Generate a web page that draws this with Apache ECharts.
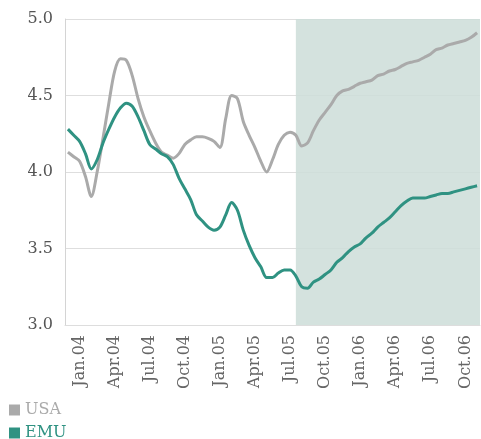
<!DOCTYPE html>
<html>
<head>
<meta charset="utf-8">
<script src="https://cdn.jsdelivr.net/npm/echarts@6/dist/echarts.min.js"></script>
<style>
  html, body { margin: 0; padding: 0; background: #fff; }
  #chart { width: 481px; height: 439px; }
</style>
</head>
<body>
<div id="chart"></div>
<script>
// half-monthly points, Dec 2003 to Nov 2006
const startYear = 2003;
const startMonth = 11; // December (0-based)
const pointCount = 71;

const tickLabels = ['Jan.04', 'Apr.04', 'Jul.04', 'Oct.04', 'Jan.05', 'Apr.05',
  'Jul.05', 'Oct.05', 'Jan.06', 'Apr.06', 'Jul.06', 'Oct.06'];
const monthNames = ['Jan', 'Feb', 'Mar', 'Apr', 'May', 'Jun', 'Jul', 'Aug', 'Sep', 'Oct', 'Nov', 'Dec'];

const usaValues = [
  4.13, 4.10, 4.07, 3.97, 3.84, 4.00, 4.22, 4.45, 4.66, 4.74,
  4.73, 4.63, 4.48, 4.36, 4.27, 4.19, 4.13, 4.11, 4.09, 4.12,
  4.18, 4.21, 4.23, 4.23, 4.22, 4.20, 4.16, 4.35, 4.50, 4.48,
  4.33, 4.24, 4.16, 4.07, 4.00, 4.08, 4.18, 4.24, 4.26, 4.24,
  4.17, 4.19, 4.27, 4.34, 4.39, 4.44, 4.50, 4.53, 4.54, 4.56,
  4.58, 4.59, 4.60, 4.63, 4.64, 4.66, 4.67, 4.69, 4.71, 4.72,
  4.73, 4.75, 4.77, 4.80, 4.81, 4.83, 4.84, 4.85, 4.86, 4.88,
  4.91
];

const emuValues = [
  4.28, 4.24, 4.20, 4.12, 4.02, 4.08, 4.19, 4.28, 4.36, 4.42,
  4.45, 4.43, 4.36, 4.27, 4.18, 4.15, 4.12, 4.10, 4.05, 3.96,
  3.89, 3.82, 3.72, 3.68, 3.64, 3.62, 3.64, 3.72, 3.80, 3.75,
  3.62, 3.52, 3.44, 3.38, 3.31, 3.31, 3.34, 3.36, 3.36, 3.32,
  3.25, 3.24, 3.28, 3.30, 3.33, 3.36, 3.41, 3.44, 3.48, 3.51,
  3.53, 3.57, 3.60, 3.64, 3.67, 3.70, 3.74, 3.78, 3.81, 3.83,
  3.83, 3.83, 3.84, 3.85, 3.86, 3.86, 3.87, 3.88, 3.89, 3.90,
  3.91
];

// forecast shading starts at this point index (mid July 2005)
const forecastStart = 39;

const usaColor = '#aaaaaa';
const emuColor = '#2f9282';
const serif = '"DejaVu Serif", serif';

// category names: "Jan.04" for the first half of a month, "Jan.04b" for the second half
const categories = [];
for (let i = 0; i < pointCount; i++) {
  const m = startMonth + Math.floor(i / 2);
  const year = startYear + Math.floor(m / 12);
  const name = monthNames[m % 12] + '.' + String(year % 100).padStart(2, '0');
  categories.push(i % 2 === 0 ? name : name + 'b');
}

// one legend box per series, stacked at bottom left
function legendBox(name, color, top) {
  return {
    left: 9,
    top: top,
    padding: 0,
    itemWidth: 11,
    itemHeight: 11,
    icon: 'rect',
    textStyle: { fontFamily: serif, fontSize: 16, color: color },
    data: [name]
  };
}

const chart = echarts.init(document.getElementById('chart'));

chart.setOption({
  animation: false,
  backgroundColor: '#fff',
  grid: { left: 65, right: 1, top: 19, bottom: 114 },
  legend: [
    legendBox('USA', usaColor, 402),
    legendBox('EMU', emuColor, 425)
  ],
  xAxis: {
    type: 'category',
    data: categories,
    boundaryGap: true,
    axisLine: { lineStyle: { color: '#dddddd', width: 1 } },
    axisTick: { show: false },
    axisLabel: {
      rotate: 90,
      margin: 10,
      color: '#666',
      fontFamily: serif,
      fontSize: 16,
      interval: (idx, value) => tickLabels.includes(value)
    },
    splitLine: { show: false }
  },
  yAxis: {
    type: 'value',
    min: 3,
    max: 5,
    interval: 0.5,
    axisLine: { show: true, lineStyle: { color: '#d4d4d4' } },
    axisTick: { show: false },
    axisLabel: {
      margin: 12,
      color: '#555',
      fontFamily: serif,
      fontSize: 16,
      formatter: v => v.toFixed(1)
    },
    splitLine: { lineStyle: { color: '#dedede', width: 1 } }
  },
  series: [
    {
      name: 'USA',
      type: 'line',
      data: usaValues,
      smooth: 0.3,
      symbol: 'none',
      lineStyle: { color: usaColor, width: 3 },
      itemStyle: { color: usaColor },
      markArea: {
        silent: true,
        itemStyle: { color: 'rgba(206,222,218,0.88)' },
        data: [[{ xAxis: forecastStart }, {}]]
      }
    },
    {
      name: 'EMU',
      type: 'line',
      data: emuValues,
      smooth: 0.3,
      symbol: 'none',
      lineStyle: { color: emuColor, width: 3 },
      itemStyle: { color: emuColor }
    }
  ]
});
</script>
</body>
</html>
